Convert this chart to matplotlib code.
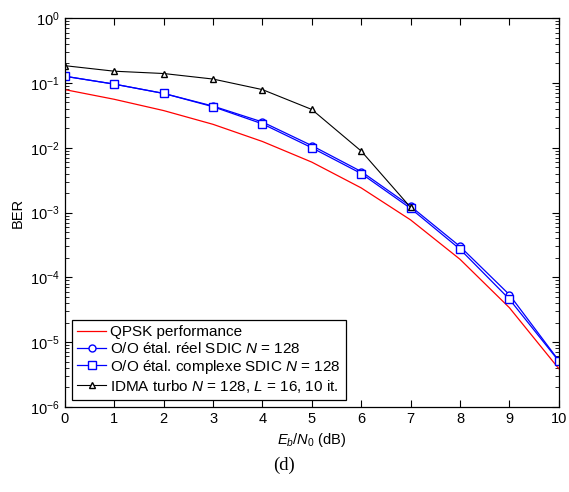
import numpy as np
import matplotlib
matplotlib.use("Agg")
import matplotlib.pyplot as plt

plt.rcParams['font.family'] = ['Liberation Sans', 'DejaVu Sans']
plt.rcParams['mathtext.fontset'] = 'custom'
plt.rcParams['mathtext.rm'] = 'Liberation Sans'
plt.rcParams['mathtext.it'] = 'Liberation Sans:italic'
plt.rcParams['mathtext.bf'] = 'Liberation Sans:bold'

ebn0 = [0, 1, 2, 3, 4, 5, 6, 7, 8, 9, 10]
ebn0_idma = [0, 1, 2, 3, 4, 5, 6, 7]

ber_qpsk = [7.9e-2, 5.6e-2, 3.75e-2, 2.3e-2, 1.25e-2, 6.0e-3, 2.4e-3, 7.7e-4, 1.9e-4, 3.4e-5, 3.9e-6]
ber_reel = [0.127, 0.096, 0.069, 0.044, 0.025, 1.08e-2, 4.3e-3, 1.25e-3, 3.0e-4, 5.4e-5, 5.2e-6]
ber_cplx = [0.127, 0.096, 0.069, 0.043, 0.0234, 1.0e-2, 4.0e-3, 1.16e-3, 2.72e-4, 4.6e-5, 5.1e-6]
ber_idma = [0.185, 0.152, 0.14, 0.115, 0.079, 0.039, 0.0089, 1.2e-3]

labels = ['QPSK performance',
          'O/O étal. réel SDIC $N$ = 128',
          'O/O étal. complexe SDIC $N$ = 128',
          'IDMA turbo $N$ = 128, $L$ = 16, 10 it.']

fig = plt.figure(figsize=(5.69, 4.92), dpi=100)
ax = fig.add_axes([0.114, 0.173, 0.868, 0.79])

ax.semilogy(ebn0, ber_qpsk, '-', color='#ff0000', lw=0.9, label=labels[0])
ax.semilogy(ebn0, ber_reel, 'o-', color='#0000ff', lw=0.9, ms=5, mfc='white', mec='#0000ff', label=labels[1])
ax.semilogy(ebn0, ber_cplx, 's-', color='#0000ff', lw=0.9, ms=5.5, mfc='white', mec='#0000ff', label=labels[2])
ax.semilogy(ebn0_idma, ber_idma, '^-', color='black', lw=0.8, ms=4.5, mfc='white', mec='black', label=labels[3])

ax.set_xlim(0, 10)
ax.set_ylim(1e-6, 1)
ax.set_xticks(np.arange(0, 11, 1))
ax.tick_params(which='both', direction='in', top=True, right=True, labelsize=10.5)
ax.tick_params(which='major', length=5)
ax.tick_params(which='minor', length=3)
for s in ax.spines.values():
    s.set_linewidth(0.9)

ax.set_xlabel('$E_b$/$N_0$ (dB)', fontsize=10.5, labelpad=4)
ax.set_ylabel('BER', fontsize=10.5, labelpad=4)

leg = ax.legend(loc='lower left', fontsize=11, fancybox=False, framealpha=1,
                edgecolor='black', handlelength=1.9, handletextpad=0.25,
                borderpad=0.35, labelspacing=0.12, borderaxespad=0,
                bbox_to_anchor=(0.014, 0.018))
leg.get_frame().set_linewidth(0.9)

fig.text(0.5, 0.055, '(d)', ha='center', va='center', fontsize=13.5, family='Liberation Serif')

fig.savefig('out.png', dpi=100)
